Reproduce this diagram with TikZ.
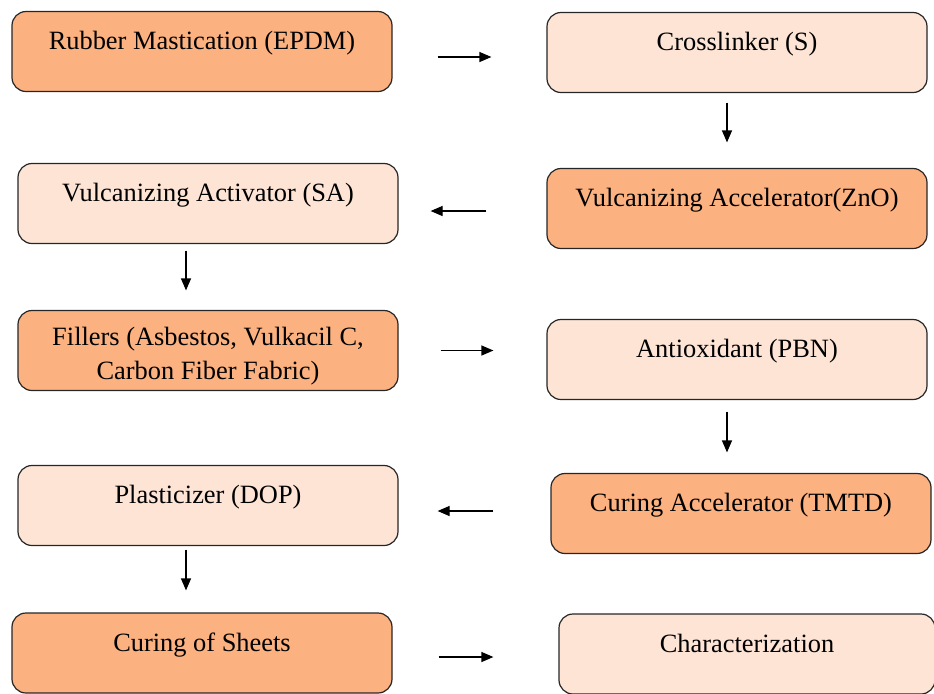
\documentclass[tikz,border=0pt]{standalone}
\usepackage{fontspec}
\setmainfont{Liberation Serif}
\usetikzlibrary{arrows.meta}
\definecolor{apricot}{RGB}{251,177,128}
\definecolor{peach}{RGB}{253,228,213}

\tikzset{
  stage/.style={draw=black!85, line width=0.6pt, rounded corners=7pt, minimum width=190pt, minimum height=40pt, inner sep=0pt, align=center, font=\fontsize{13.2}{16}\selectfont},
  toptext/.style={text height=9pt, text depth=11pt},
  flow/.style={-{Triangle[length=6pt,width=5pt]}, line width=0.6pt}
}

\begin{document}
\begin{tikzpicture}[x=0.5pt, y=-0.5pt]
      \useasboundingbox (0,0) rectangle (934,693);

      \node[stage, toptext, fill=apricot] (rubber) at (202, 51.5) {Rubber Mastication (EPDM)};
      \node[stage, toptext, fill=peach] (cross) at (737, 52.5) {Crosslinker (S)};
      \node[stage, toptext, fill=peach] (activ) at (208, 203.5) {Vulcanizing Activator (SA)};
      \node[stage, toptext, fill=apricot] (zno) at (737, 208.5) {Vulcanizing Accelerator(ZnO)};
      \node[stage, fill=apricot, font=\fontsize{13.2}{17}\selectfont, text height=32pt, text depth=3pt] (fillers) at (208, 350.5) {Fillers (Asbestos, Vulkacil C,\\Carbon Fiber Fabric)};
      \node[stage, toptext, fill=peach] (pbn) at (737, 359.5) {Antioxidant (PBN)};
      \node[stage, toptext, fill=peach] (dop) at (208, 505.5) {Plasticizer (DOP)};
      \node[stage, toptext, fill=apricot] (tmtd) at (741, 513.5) {Curing Accelerator (TMTD)};
      \node[stage, toptext, fill=apricot] (sheets) at (202, 653) {Curing of Sheets};
      \node[stage, toptext, fill=peach, minimum width=188pt] (charac) at (747, 654) {Characterization};

      \draw[flow, shorten <=22.5pt, shorten >=27.5pt] ([yshift=-2.75pt]rubber.east) -- ([yshift=-2.75pt]rubber.east -| cross.west);
      \draw[flow, shorten <=4.75pt, shorten >=12.75pt] ([xshift=-5pt]cross.south) -- ([xshift=-5pt]cross.south |- zno.north);
      \draw[flow, shorten <=30pt, shorten >=16pt] ([yshift=-1.25pt]zno.west) -- ([yshift=-1.25pt]zno.west -| activ.east);
      \draw[flow, shorten <=3.25pt, shorten >=9.75pt] ([xshift=-11pt]activ.south) -- ([xshift=-11pt]activ.south |- fillers.north);
      \draw[flow, shorten <=21pt, shorten >=26.5pt] (fillers.east) -- (fillers.east -| pbn.west);
      \draw[flow, shorten <=5.75pt, shorten >=10.25pt] ([xshift=-5pt]pbn.south) -- ([xshift=-5pt]pbn.south |- tmtd.north);
      \draw[flow, shorten <=28.5pt, shorten >=19.5pt] ([yshift=1.25pt]tmtd.west) -- ([yshift=1.25pt]tmtd.west -| dop.east);
      \draw[flow, shorten <=1.75pt, shorten >=11pt] ([xshift=-11pt]dop.south) -- ([xshift=-11pt]dop.south |- sheets.north);
      \draw[flow, shorten <=23pt, shorten >=32.5pt] ([yshift=-2pt]sheets.east) -- ([yshift=-2pt]sheets.east -| charac.west);
\end{tikzpicture}
\end{document}
